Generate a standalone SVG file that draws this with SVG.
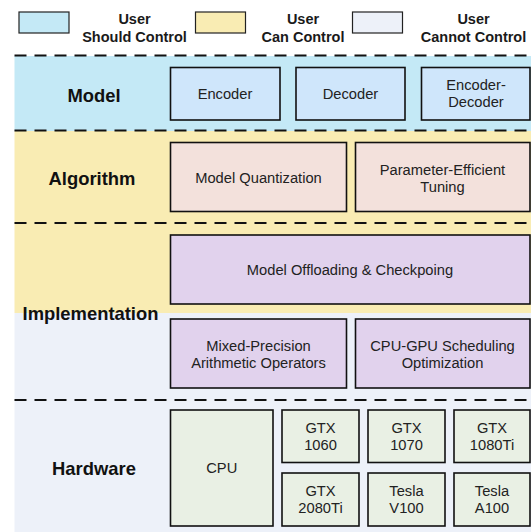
<svg xmlns="http://www.w3.org/2000/svg" width="531" height="532" viewBox="0 0 531 532">
<style>
text{font-family:"Liberation Sans",Arial,sans-serif;fill:#1a1a1a}
.lg{font-size:14.5px;font-weight:bold;text-anchor:middle}
.lbl{font-size:18.4px;font-weight:bold;text-anchor:middle;fill:#111}
.t{font-size:14.7px;text-anchor:middle;fill:#222}
.box{stroke:#111;stroke-width:1.6}
.m{fill:#cfe6fb}.a{fill:#f3e1dc}.i{fill:#e1d2ed}.h{fill:#e9f0e4}
.dash{stroke:#111;stroke-width:2.2;stroke-dasharray:12 8;fill:none}
.leg{stroke:#222;stroke-width:1.2}
</style>
<rect width="531" height="532" fill="#ffffff"/>
<g id="bands">
<rect x="14.5" y="56" width="517" height="75" fill="#c4e9f6"/>
<rect x="14.5" y="131" width="517" height="182" fill="#f9ecb3"/>
<rect x="14.5" y="313" width="517" height="219" fill="#edf1f9"/>
</g>
<g id="legend">
<rect class="leg" x="19" y="12" width="50" height="21" fill="#c4e9f6"/>
<text class="lg" x="134.5" y="24">User</text><text class="lg" x="134.5" y="42">Should Control</text>
<rect class="leg" x="195.5" y="12" width="50" height="21" fill="#f9ecb3"/>
<text class="lg" x="303" y="24">User</text><text class="lg" x="303" y="42">Can Control</text>
<rect class="leg" x="352.5" y="12" width="50" height="21" fill="#edf1f9"/>
<text class="lg" x="473.5" y="24">User</text><text class="lg" x="473.5" y="42">Cannot Control</text>
</g>
<g id="dividers">
<line class="dash" x1="14.5" y1="55.5" x2="531" y2="55.5"/>
<line class="dash" x1="14.5" y1="130.5" x2="531" y2="130.5"/>
<line class="dash" x1="14.5" y1="223" x2="531" y2="223"/>
<line class="dash" x1="14.5" y1="400" x2="531" y2="400"/>
</g>
<g id="layer-labels">
<text class="lbl" x="94" y="101.5">Model</text>
<text class="lbl" x="92" y="184.5">Algorithm</text>
<text class="lbl" x="90.5" y="319.5">Implementation</text>
<text class="lbl" x="94" y="474.5">Hardware</text>
</g>
<g id="encoder"><rect class="box m" x="170.5" y="67.5" width="109.5" height="52.5"/><text class="t" x="225" y="99">Encoder</text></g>
<g id="decoder"><rect class="box m" x="296" y="67.5" width="109" height="52.5"/><text class="t" x="350.5" y="99">Decoder</text></g>
<g id="encoder-decoder"><rect class="box m" x="421.5" y="67.5" width="108.5" height="52.5"/><text class="t" x="476" y="90">Encoder-</text><text class="t" x="476" y="107">Decoder</text></g>
<g id="model-quantization"><rect class="box a" x="170.5" y="142.5" width="176" height="69"/><text class="t" x="258.5" y="183">Model Quantization</text></g>
<g id="peft"><rect class="box a" x="355.5" y="142.5" width="174.5" height="69"/><text class="t" x="442.5" y="174.5">Parameter-Efficient</text><text class="t" x="442.5" y="191.5">Tuning</text></g>
<g id="offloading"><rect class="box i" x="170.5" y="235" width="359.5" height="69"/><text class="t" x="350" y="275">Model Offloading &amp; Checkpoing</text></g>
<g id="mixed-precision"><rect class="box i" x="170.5" y="319" width="176" height="69"/><text class="t" x="258.5" y="351">Mixed-Precision</text><text class="t" x="258.5" y="368">Arithmetic Operators</text></g>
<g id="cpu-gpu-scheduling"><rect class="box i" x="355.5" y="319" width="174.5" height="69"/><text class="t" x="442.5" y="351">CPU-GPU Scheduling</text><text class="t" x="442.5" y="368">Optimization</text></g>
<g id="cpu"><rect class="box h" x="170.5" y="410" width="102.5" height="116"/><text class="t" x="221.75" y="473">CPU</text></g>
<g id="gtx1060"><rect class="box h" x="282" y="410" width="77" height="52.5"/><text class="t" x="320.5" y="433">GTX</text><text class="t" x="320.5" y="450">1060</text></g>
<g id="gtx1070"><rect class="box h" x="368" y="410" width="77" height="52.5"/><text class="t" x="406.5" y="433">GTX</text><text class="t" x="406.5" y="450">1070</text></g>
<g id="gtx1080ti"><rect class="box h" x="454" y="410" width="76" height="52.5"/><text class="t" x="492" y="433">GTX</text><text class="t" x="492" y="450">1080Ti</text></g>
<g id="gtx2080ti"><rect class="box h" x="282" y="473" width="77" height="53"/><text class="t" x="320.5" y="496">GTX</text><text class="t" x="320.5" y="513">2080Ti</text></g>
<g id="tesla-v100"><rect class="box h" x="368" y="473" width="77" height="53"/><text class="t" x="406.5" y="496">Tesla</text><text class="t" x="406.5" y="513">V100</text></g>
<g id="tesla-a100"><rect class="box h" x="454" y="473" width="76" height="53"/><text class="t" x="492" y="496">Tesla</text><text class="t" x="492" y="513">A100</text></g>
<g id="connectors"></g>
</svg>
